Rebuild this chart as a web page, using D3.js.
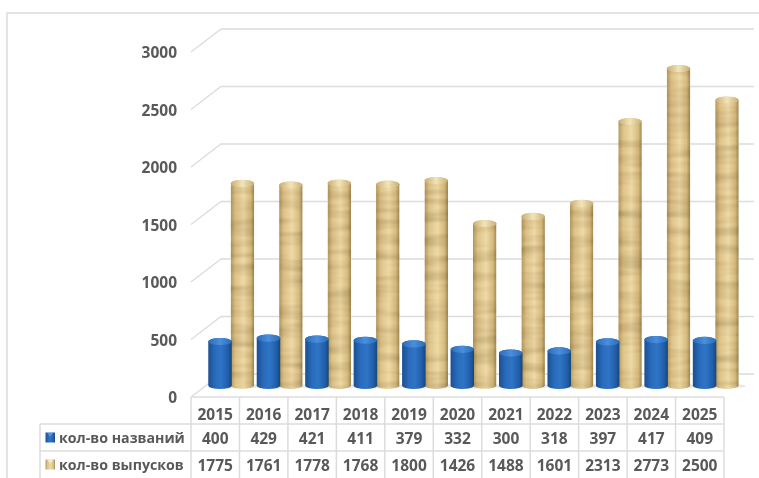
<!DOCTYPE html>
<html>
<head>
<meta charset="utf-8">
<script src="https://cdn.jsdelivr.net/npm/d3@7"></script>
<style>
  html, body { margin: 0; padding: 0; background: #fff; overflow: hidden; }
  svg { display: block; filter: blur(0.35px); }
  text { font-family: "Open Sans", sans-serif; font-weight: 700; fill: #595959; }
</style>
</head>
<body>
<div id="chart"></div>
<script>
const years = [2015, 2016, 2017, 2018, 2019, 2020, 2021, 2022, 2023, 2024, 2025];
const titles = [400, 429, 421, 411, 379, 332, 300, 318, 397, 417, 409];
const issues = [1775, 1761, 1778, 1768, 1800, 1426, 1488, 1601, 2313, 2773, 2500];
const y_ticks = [0, 500, 1000, 1500, 2000, 2500, 3000];
const series_names = ["кол-во названий", "кол-во выпусков"];

const chart_width = 759;
const chart_height = 478;
const line_color = "#dcdcdc";

const x = d3.scaleBand().domain(years).range([191, 724]);
const y = d3.scaleLinear().domain([0, 3000]).range([397, 52]);

// depth of the 3d box
const depth_x = 30;
const depth_y = -23;
// bars stand in the middle of the floor
const bar_dx = 16;
const bar_dy = -9;
const bar_w = 23.5;
const bar_ry = 3.6;

const svg = d3.select("#chart").append("svg")
    .attr("width", chart_width)
    .attr("height", chart_height)
    .attr("viewBox", [0, 0, chart_width, chart_height]);

const defs = svg.append("defs");

function addGradient(id, stops) {
    defs.append("linearGradient").attr("id", id)
        .selectAll("stop")
        .data(stops)
        .join("stop")
        .attr("offset", d => d[0])
        .attr("stop-color", d => d[1]);
}
addGradient("blue-body", [[0, "#1b4f93"], [0.3, "#2a6cbc"], [0.55, "#2f74c6"], [0.85, "#215da8"], [1, "#174579"]]);
addGradient("tan-body", [[0, "#b2985f"], [0.2, "#dcc388"], [0.55, "#eedaa6"], [0.85, "#d6bb7f"], [1, "#a08853"]]);
addGradient("blue-top", [[0, "#2a6cb8"], [0.5, "#4a8fdc"], [1, "#2a6cb8"]]);
addGradient("tan-top", [[0, "#c8ae74"], [0.5, "#f2e4ba"], [1, "#c8ae74"]]);

// wood like rings on the tan cylinders
const wood = defs.append("filter").attr("id", "wood")
    .attr("x", "0").attr("y", "0").attr("width", "1").attr("height", "1")
    .attr("color-interpolation-filters", "sRGB");
wood.append("feTurbulence")
    .attr("type", "fractalNoise")
    .attr("baseFrequency", "0.015 0.11")
    .attr("numOctaves", 2)
    .attr("seed", 4)
    .attr("result", "noise");
wood.append("feColorMatrix")
    .attr("in", "noise")
    .attr("type", "matrix")
    .attr("values", "0.3 0 0 0 0.82  0.32 0 0 0 0.8  0.38 0 0 0 0.76  0 0 0 0 1")
    .attr("result", "rings");
wood.append("feBlend")
    .attr("in", "SourceGraphic").attr("in2", "rings")
    .attr("mode", "multiply")
    .attr("result", "mixed");
wood.append("feComposite")
    .attr("in", "mixed").attr("in2", "SourceGraphic")
    .attr("operator", "in");

// outer frame
svg.append("path")
    .attr("d", `M7,${chart_height}V13H${chart_width}`)
    .attr("fill", "none")
    .attr("stroke", line_color)
    .attr("stroke-width", 1.5);

// gridlines, left wall and back wall
const grid = svg.append("g")
    .attr("fill", "none")
    .attr("stroke", line_color)
    .attr("stroke-width", 1.3);
const x0 = x.range()[0];
const x1 = x.range()[1];
grid.selectAll("path")
    .data(y_ticks)
    .join("path")
    .attr("d", d => `M${x0},${y(d)}L${x0 + depth_x},${y(d) + depth_y}H${x1 + depth_x}`);

// y axis labels
const y_axis = svg.append("g")
    .attr("transform", "translate(177,0.5)")
    .call(d3.axisLeft(y).tickValues(y_ticks).tickSize(0).tickPadding(0).tickFormat(d3.format("d")));
y_axis.select(".domain").remove();
y_axis.selectAll("text")
    .style("font-family", '"Open Sans", sans-serif')
    .style("font-size", "15.5px")
    .attr("dy", "0.35em");

function cylinderPath(cx, top, bottom) {
    const r = bar_w / 2;
    return `M${cx - r},${top}V${bottom}A${r},${bar_ry} 0 0 0 ${cx + r},${bottom}V${top}A${r},${bar_ry} 0 0 0 ${cx - r},${top}Z`;
}

// floor shadow
svg.append("g").selectAll("ellipse")
    .data(years)
    .join("ellipse")
    .attr("cx", d => x(d) + x.bandwidth() / 2 + bar_dx + 5)
    .attr("cy", y(0) + bar_dy - 2)
    .attr("rx", 25)
    .attr("ry", 2.5)
    .attr("fill", "#d0d0d0")
    .attr("opacity", 0.5);

const series = [
    {values: titles, offset: -11.2, body: "blue-body", top: "blue-top", wood: false},
    {values: issues, offset: 11.2, body: "tan-body", top: "tan-top", wood: true}
];

// tan goes first so each blue bar sits in front of the tan on its left
series.slice().reverse().forEach(s => {
    const g = svg.append("g");
    const bar = g.selectAll("g")
        .data(years.map((yr, i) => ({yr, v: s.values[i]})))
        .join("g");
    const cx = d => x(d.yr) + x.bandwidth() / 2 + bar_dx + s.offset;
    const top = d => y(d.v) + bar_dy - 0.5;
    bar.append("path")
        .attr("d", d => cylinderPath(cx(d), top(d), y(0) + bar_dy - 2.5))
        .attr("fill", `url(#${s.body})`)
        .attr("filter", s.wood ? "url(#wood)" : null);
    bar.append("ellipse")
        .attr("cx", cx)
        .attr("cy", top)
        .attr("rx", bar_w / 2)
        .attr("ry", bar_ry)
        .attr("fill", `url(#${s.top})`);
});

// data table under the chart
const row_y = [397, 424, 451];
const row_h = 27;
const table_left = 40;
const table = svg.append("g");

const t_lines = table.append("g")
    .attr("fill", "none")
    .attr("stroke", line_color)
    .attr("stroke-width", 1.5);
t_lines.append("path").attr("d", `M${x0},${row_y[0]}H${x1}`);
t_lines.append("path").attr("d", `M${table_left},${row_y[1]}H${x1}`);
t_lines.append("path").attr("d", `M${table_left},${row_y[2]}H${x1}`);
t_lines.append("path").attr("d", `M${table_left},${row_y[1]}V${chart_height}`);
t_lines.selectAll(".col")
    .data(years.concat("end"))
    .join("path")
    .attr("class", "col")
    .attr("d", d => {
        const px = d === "end" ? x1 : x(d);
        return `M${px},${row_y[0]}V${chart_height}`;
    });

const rows = [years, titles, issues];
rows.forEach((vals, r) => {
    table.append("g").selectAll("text")
        .data(vals)
        .join("text")
        .attr("x", (d, i) => x(years[i]) + x.bandwidth() / 2)
        .attr("y", row_y[r] + row_h / 2 + (r === 0 ? 4 : r === 1 ? 0.5 : 1))
        .attr("dy", "0.36em")
        .attr("text-anchor", "middle")
        .attr("font-size", 15.5)
        .text(d => d);
});

// legend keys
series_names.forEach((name, i) => {
    const s = series[i];
    const ry = row_y[i + 1] + row_h / 2;
    table.append("rect")
        .attr("x", 45.5)
        .attr("y", ry - 5)
        .attr("width", 9.5)
        .attr("height", 10)
        .attr("fill", `url(#${s.body})`);
    table.append("path")
        .attr("d", `M47.5,${ry - 4.5}h5.5l-2.75,4z`)
        .attr("fill", s.wood ? "#f5ecc9" : "#4f96e6");
    table.append("text")
        .attr("x", 59)
        .attr("y", ry + 0.5)
        .attr("dy", "0.36em")
        .attr("font-size", 14.2)
        .text(name);
});
</script>
</body>
</html>
